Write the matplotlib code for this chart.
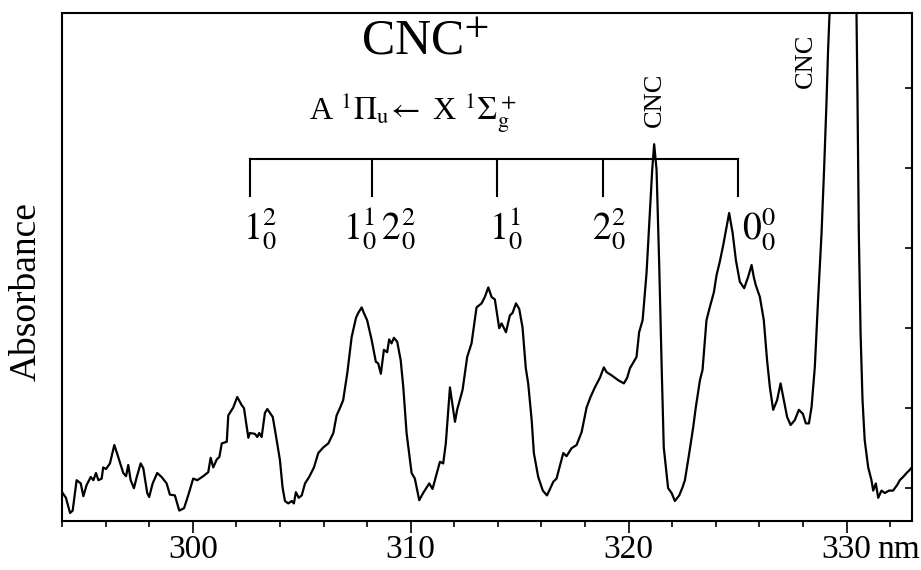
"""CNC+ absorption spectrum (A 1Pi_u <- X 1Sigma_g+) with vibronic assignments"""
import matplotlib
matplotlib.use("Agg")
import matplotlib.pyplot as plt
from matplotlib.ticker import MultipleLocator

plt.rcParams['font.family'] = ['Liberation Serif', 'DejaVu Serif']
plt.rcParams['mathtext.fontset'] = 'stix'

# wavelength (nm) and absorbance (arb. units, one unit = one tick step)
wavelength = [
  294.03, 294.18, 294.37, 294.49, 294.67, 294.86, 294.98, 295.13, 295.32, 295.44,
  295.56, 295.67, 295.82, 295.89, 296.02, 296.20, 296.40, 296.58, 296.81, 296.94,
  297.04, 297.15, 297.30, 297.43, 297.61, 297.73, 297.91, 298.00, 298.16, 298.37,
  298.57, 298.80, 298.95, 299.18, 299.38, 299.60, 299.79, 300.02, 300.21, 300.48,
  300.71, 300.82, 300.94, 301.10, 301.22, 301.33, 301.56,
  301.63, 301.86, 302.04, 302.24, 302.35, 302.55, 302.62, 302.85, 302.96, 303.05,
  303.16, 303.31, 303.42, 303.67, 303.85, 304.00, 304.12, 304.23, 304.38, 304.54,
  304.64, 304.73, 304.86, 305.00, 305.15, 305.34, 305.56, 305.76, 305.99, 306.22,
  306.45, 306.60, 306.75, 306.90, 307.09, 307.29, 307.49, 307.59, 307.75, 307.85,
  308.00, 308.21, 308.40, 308.51, 308.63, 308.77, 308.92, 309.01, 309.12, 309.23,
  309.38,
  309.54, 309.66, 309.81, 310.04, 310.19, 310.39, 310.57, 310.85, 311.00, 311.16,
  311.34, 311.49, 311.61, 311.80, 312.03, 312.13, 312.38, 312.59, 312.79, 313.02,
  313.25, 313.40, 313.56, 313.71, 313.86, 314.06, 314.17, 314.37, 314.55, 314.67,
  314.83, 314.98, 315.13, 315.28, 315.39, 315.55, 315.65, 315.85,
  316.06, 316.25, 316.39, 316.54, 316.69, 317.00, 317.15, 317.38, 317.61, 317.84,
  318.07, 318.25, 318.45, 318.68, 318.86, 318.99, 319.22, 319.52, 319.78, 319.93,
  320.06, 320.36, 320.48, 320.64, 320.82, 320.97, 321.08, 321.17, 321.28, 321.40,
  321.51, 321.61, 321.81, 321.97, 322.12, 322.32, 322.47,
  322.58, 322.78, 322.96, 323.08, 323.27, 323.39, 323.57, 323.72, 323.91, 324.03,
  324.18, 324.34, 324.49, 324.61, 324.77, 324.92, 325.10, 325.30, 325.48, 325.64,
  325.74, 325.83, 326.02, 326.20, 326.35, 326.48, 326.63, 326.81, 326.97, 327.12,
  327.27, 327.43, 327.62, 327.81, 327.99, 328.13, 328.27,
  328.39, 328.54, 328.69, 328.85, 328.97, 329.08, 329.15, 329.23, 329.83, 330.45,
  330.50, 330.56, 330.64, 330.73, 330.83, 330.99, 331.14, 331.22, 331.34, 331.45,
  331.60, 331.75, 331.95, 332.13, 332.32, 332.44, 332.59, 332.75, 332.90, 332.99,
]
absorbance = [
  -0.06, -0.12, -0.31, -0.28, 0.10, 0.06, -0.10, 0.04, 0.14, 0.10,
  0.19, 0.10, 0.12, 0.26, 0.24, 0.31, 0.54, 0.39, 0.19, 0.15,
  0.29, 0.10, 0.00, 0.14, 0.31, 0.25, -0.06, -0.11, 0.06, 0.19,
  0.14, 0.06, -0.08, -0.09, -0.28, -0.25, -0.09, 0.12, 0.10, 0.15,
  0.20, 0.38, 0.26, 0.36, 0.39, 0.56, 0.58,
  0.91, 1.01, 1.14, 1.04, 1.00, 0.63, 0.69, 0.68, 0.64, 0.69,
  0.64, 0.94, 0.99, 0.89, 0.60, 0.35, 0.01, -0.16, -0.19, -0.16,
  -0.19, -0.05, -0.12, -0.09, 0.06, 0.14, 0.26, 0.44, 0.51, 0.56,
  0.69, 0.91, 1.00, 1.10, 1.44, 1.89, 2.13, 2.19, 2.26, 2.19,
  2.10, 1.85, 1.58, 1.56, 1.43, 1.73, 1.70, 1.86, 1.81, 1.88,
  1.83,
  1.60, 1.26, 0.69, 0.19, 0.12, -0.15, -0.06, 0.06, -0.01, 0.15,
  0.33, 0.31, 0.56, 1.26, 0.83, 0.98, 1.23, 1.64, 1.81, 2.26,
  2.31, 2.39, 2.51, 2.39, 2.36, 2.00, 2.06, 1.95, 2.16, 2.19,
  2.31, 2.24, 2.01, 1.50, 1.31, 0.85, 0.44, 0.14,
  -0.03, -0.09, -0.01, 0.08, 0.12, 0.44, 0.40, 0.50, 0.54, 0.70,
  1.01, 1.14, 1.26, 1.38, 1.51, 1.45, 1.41, 1.35, 1.31, 1.38,
  1.50, 1.64, 1.95, 2.10, 2.69, 3.44, 3.98, 4.30, 3.98, 2.81,
  1.56, 0.51, 0.00, -0.06, -0.16, -0.09, 0.01,
  0.10, 0.44, 0.76, 1.01, 1.35, 1.48, 2.10, 2.26, 2.45, 2.66,
  2.83, 3.04, 3.26, 3.44, 3.19, 2.85, 2.58, 2.50, 2.64, 2.79,
  2.64, 2.54, 2.39, 2.10, 1.60, 1.26, 0.98, 1.10, 1.31, 1.10,
  0.89, 0.79, 0.85, 0.98, 0.93, 0.81, 0.81,
  1.01, 1.51, 2.35, 3.19, 4.01, 4.85, 5.48, 6.01, 10.48, 6.01,
  4.85, 3.19, 1.94, 1.10, 0.60, 0.26, 0.10, -0.03, 0.06, -0.12,
  -0.03, -0.06, -0.03, -0.03, 0.04, 0.10, 0.14, 0.19, 0.23, 0.26,
]

# vibronic progression markers
band_pos = [302.62, 308.22, 313.95, 318.83, 325.01]
band_labels = [r'$1_0^2$', r'$1_0^1\,2_0^2$', r'$1_0^1$', r'$2_0^2$', r'$0_0^0$']
label_x = [302.3, 306.9, 313.6, 318.3, 325.2]
bracket_top = 4.11
bracket_bottom = 3.65
label_y = 3.1

# CNC neutral bands
cnc_pos = [(321.2, 4.85), (328.13, 5.34)]

fig = plt.figure(figsize=(9.21, 5.70), dpi=100)
ax = fig.add_axes([62/921, 1 - 521/570, 850/921, 508/570])

ax.plot(wavelength, absorbance, color='black', lw=1.6)
ax.set_xlim(294, 333)
ax.set_ylim(-0.41, 5.94)

# ticks
ax.xaxis.set_major_locator(MultipleLocator(10))
ax.xaxis.set_minor_locator(MultipleLocator(2))
ax.tick_params(axis='x', which='major', direction='out', length=8.5, width=1.2,
               labelsize=24, pad=1)
ax.tick_params(axis='x', which='minor', direction='out', length=4.5, width=1.2)
ax.yaxis.set_major_locator(MultipleLocator(1))
ax.yaxis.tick_right()
ax.tick_params(axis='y', which='both', direction='in', length=5, width=1.2,
               labelright=False, labelleft=False)
for s in ax.spines.values():
  s.set_linewidth(1.5)

ax.annotate('nm', xy=(330, 0), xycoords=('data', 'axes fraction'),
            xytext=(22, -9.5), textcoords='offset points',
            ha='left', va='top', fontsize=24)

fig.text(26/921, 1 - 292/570, 'Absorbance', rotation=90, fontsize=27,
         ha='center', va='center')

# titles
ax.text(310.65, 5.58, r'CNC$^{+}$', fontsize=36, ha='center', va='center')
ax.text(310.1, 4.69, r'A $^1\Pi_\mathrm{u}\!\leftarrow$ X $^1\Sigma_\mathrm{g}^+$',
        fontsize=23, ha='center', va='center')

# bracket
ax.plot([band_pos[0], band_pos[-1]], [bracket_top, bracket_top], color='black', lw=1.5)
for p in band_pos:
  ax.plot([p, p], [bracket_top, bracket_bottom], color='black', lw=1.5)
for lx, lab in zip(label_x, band_labels):
  ax.text(lx, label_y, lab, fontsize=27, ha='left', va='baseline')

for cx, cy in cnc_pos:
  ax.text(cx, cy, 'CNC', rotation=90, fontsize=19, ha='center', va='center')

plt.savefig('out.png', dpi=100)
